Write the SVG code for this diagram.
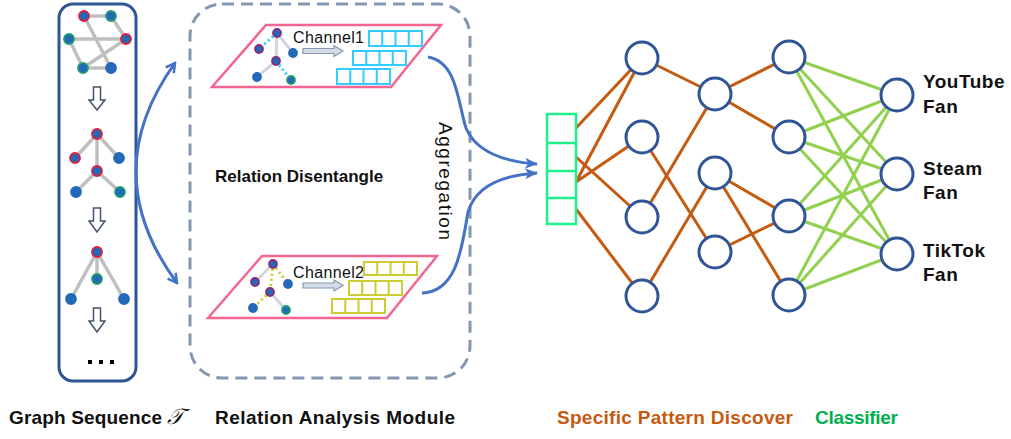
<svg xmlns="http://www.w3.org/2000/svg" width="1011" height="439" viewBox="0 0 1011 439">
<style>
.lbl{font-family:"Liberation Sans",Arial,sans-serif;font-weight:bold;font-size:17px;fill:#111}
.cap{font-family:"Liberation Sans",Arial,sans-serif;font-weight:bold;font-size:19px;fill:#111}
.out{font-family:"Liberation Sans",Arial,sans-serif;font-weight:bold;font-size:19px;fill:#111;letter-spacing:0.5px}
.ch{font-family:"Liberation Sans",Arial,sans-serif;font-size:16px;fill:#111}
.agg{font-family:"Liberation Sans",Arial,sans-serif;font-size:19px;fill:#111}
.nn{fill:#fff;stroke:#2F5597;stroke-width:3}
.org{stroke:#C55A11;stroke-width:3;fill:none}
.grn{stroke:#92D050;stroke-width:3;fill:none}
.ge{stroke:#BFBFBF;stroke-width:3.5}
.ge2{stroke:#D0D5DE;stroke-width:3}
.dc{stroke:#33CCFF;stroke-width:3;stroke-dasharray:2 3}
.dy{stroke:#CCD033;stroke-width:3;stroke-dasharray:2 3}
.dn{fill:#2468B8;stroke-width:1.8}
.r{stroke:#E0203A}
.g{stroke:#1E9E6A}
.b{stroke:#2468B8}
.p{stroke:#8A2A7A}
.cy{fill:none;stroke:#33CCFF;stroke-width:2}
.yl{fill:none;stroke:#CCCC33;stroke-width:2}
.blue{stroke:#4472C4;stroke-width:3;fill:none}
.dar{fill:#fff;stroke:#44546A;stroke-width:1.5}
.har{fill:#D6DCE5;stroke:#8497B0;stroke-width:1.2}
.par{fill:none;stroke:#F4668F;stroke-width:2.5}
</style>
<defs>
<marker id="open" viewBox="0 0 12 12" refX="10" refY="6" markerWidth="12" markerHeight="12" markerUnits="userSpaceOnUse" orient="auto-start-reverse">
<path d="M1,1 L10,6 L1,11" fill="none" stroke="#4472C4" stroke-width="2.5"/>
</marker>
<marker id="stealth" viewBox="0 0 12 10" refX="11" refY="5" markerWidth="13" markerHeight="11" markerUnits="userSpaceOnUse" orient="auto">
<path d="M0,0 L12,5 L0,10 L3,5 z" fill="#4472C4"/>
</marker>
</defs>

<g id="graph-sequence">
<rect x="59" y="4" width="77" height="377" rx="14" fill="#fff" stroke="#2F5597" stroke-width="3"/>
<g id="graph1">
<line class="ge" x1="84" y1="16" x2="111" y2="16"/>
<line class="ge" x1="84" y1="16" x2="111" y2="68"/>
<line class="ge" x1="111" y1="16" x2="126" y2="39"/>
<line class="ge" x1="69" y1="39" x2="126" y2="39"/>
<line class="ge" x1="69" y1="39" x2="83" y2="68"/>
<line class="ge" x1="83" y1="68" x2="111" y2="68"/>
<line class="ge" x1="83" y1="68" x2="126" y2="39"/>
<circle class="dn r" cx="84" cy="16" r="5"/>
<circle class="dn g" cx="111" cy="16" r="5"/>
<circle class="dn g" cx="69" cy="39" r="5"/>
<circle class="dn r" cx="126" cy="39" r="5"/>
<circle class="dn g" cx="83" cy="68" r="5"/>
<circle class="dn b" cx="111" cy="68" r="5"/>
</g>
<polygon class="dar" points="93.5,87 100.5,87 100.5,100 105,100 97,110 89,100 93.5,100"/>
<g id="graph2">
<line class="ge" x1="97" y1="134" x2="75" y2="158"/>
<line class="ge" x1="97" y1="134" x2="119" y2="158"/>
<line class="ge" x1="97" y1="134" x2="97" y2="171"/>
<line class="ge" x1="97" y1="171" x2="76" y2="192"/>
<line class="ge" x1="97" y1="171" x2="120" y2="192"/>
<circle class="dn r" cx="97" cy="134" r="5"/>
<circle class="dn r" cx="75" cy="158" r="5"/>
<circle class="dn b" cx="119" cy="158" r="5"/>
<circle class="dn r" cx="97" cy="171" r="5"/>
<circle class="dn b" cx="76" cy="192" r="5"/>
<circle class="dn g" cx="120" cy="192" r="5"/>
</g>
<polygon class="dar" points="93.5,208 100.5,208 100.5,221 105,221 97,232 89,221 93.5,221"/>
<g id="graph3">
<line class="ge" x1="97" y1="252" x2="97" y2="279"/>
<line class="ge" x1="97" y1="252" x2="71" y2="299"/>
<line class="ge" x1="97" y1="252" x2="124" y2="299"/>
<circle class="dn r" cx="97" cy="252" r="5"/>
<circle class="dn g" cx="97" cy="279" r="5"/>
<circle class="dn b" cx="71" cy="299" r="5"/>
<circle class="dn b" cx="124" cy="299" r="5"/>
</g>
<polygon class="dar" points="93.5,308 100.5,308 100.5,321 105,321 97,332 89,321 93.5,321"/>
<rect x="88" y="360" width="4" height="4" fill="#000"/>
<rect x="99" y="360" width="4" height="4" fill="#000"/>
<rect x="110" y="360" width="4" height="4" fill="#000"/>
</g>

<g id="relation-module">
<rect x="190" y="4" width="280" height="374" rx="32" fill="none" stroke="#8497B0" stroke-width="3" stroke-dasharray="12 7"/>
<text class="lbl" x="215" y="182">Relation Disentangle</text>
<text class="agg" transform="translate(439,122) rotate(90)" textLength="118" lengthAdjust="spacing">Aggregation</text>
</g>

<g id="channel1">
<polygon class="par" points="212,87 266,25 441,25 391,87"/>
<line class="dc" x1="277" y1="33" x2="259" y2="49"/>
<line class="ge2" x1="277" y1="33" x2="293" y2="53"/>
<line class="ge2" x1="277" y1="33" x2="276" y2="61"/>
<line class="ge2" x1="276" y1="61" x2="257" y2="77"/>
<line class="dc" x1="276" y1="61" x2="291" y2="80"/>
<circle class="dn p" cx="277" cy="33" r="4"/>
<circle class="dn p" cx="259" cy="49" r="4"/>
<circle class="dn b" cx="293" cy="53" r="4"/>
<circle class="dn p" cx="276" cy="61" r="4"/>
<circle class="dn b" cx="257" cy="77" r="4"/>
<circle class="dn g" cx="291" cy="80" r="4"/>
<text class="ch" x="293" y="43" textLength="71" lengthAdjust="spacing">Channel1</text>
<polygon class="har" points="303,48.5 334,48.5 334,45.5 343,51 334,56.5 334,53.5 303,53.5"/>
<rect class="cy" x="369" y="31" width="53" height="15"/>
<path class="cy" d="M382.25,31V46M395.5,31V46M408.75,31V46"/>
<rect class="cy" x="353" y="51" width="53" height="14"/>
<path class="cy" d="M366.25,51V65M379.5,51V65M392.75,51V65"/>
<rect class="cy" x="337" y="69" width="53" height="15"/>
<path class="cy" d="M350.25,69V84M363.5,69V84M376.75,69V84"/>
</g>

<g id="channel2">
<polygon class="par" points="208,318 262,256 437,256 387,318"/>
<line class="ge2" x1="273" y1="264" x2="255" y2="282"/>
<line class="dy" x1="273" y1="264" x2="288" y2="284"/>
<line class="dy" x1="273" y1="264" x2="270" y2="292"/>
<line class="dy" x1="270" y1="292" x2="253" y2="308"/>
<line class="ge2" x1="270" y1="292" x2="286" y2="310"/>
<circle class="dn p" cx="273" cy="264" r="4"/>
<circle class="dn p" cx="255" cy="282" r="4"/>
<circle class="dn b" cx="288" cy="284" r="4"/>
<circle class="dn p" cx="270" cy="292" r="4"/>
<circle class="dn b" cx="253" cy="308" r="4"/>
<circle class="dn g" cx="286" cy="310" r="4"/>
<text class="ch" x="293" y="278" textLength="71" lengthAdjust="spacing">Channel2</text>
<polygon class="har" points="303,283 334,283 334,280 343,285.5 334,291 334,288 303,288"/>
<rect class="yl" x="364" y="262" width="53" height="13"/>
<path class="yl" d="M377.25,262V275M390.5,262V275M403.75,262V275"/>
<rect class="yl" x="349" y="281" width="53" height="14"/>
<path class="yl" d="M362.25,281V295M375.5,281V295M388.75,281V295"/>
<rect class="yl" x="332" y="299" width="53" height="14"/>
<path class="yl" d="M345.25,299V313M358.5,299V313M371.75,299V313"/>
</g>

<g id="connectors">
<path class="blue" d="M175,63 Q96,173 177,283" marker-start="url(#open)" marker-end="url(#open)"/>
<path class="blue" d="M428,57 C458,62 458,105 466,128 C476,152 505,162 537,164" marker-end="url(#stealth)"/>
<path class="blue" d="M422,293 C458,292 462,245 468,212 C476,185 505,175 537,173" marker-end="url(#stealth)"/>
<g id="orange-edges">
<line class="org" x1="576" y1="128" x2="642" y2="58"/>
<line class="org" x1="576" y1="182" x2="642" y2="58"/>
<line class="org" x1="576" y1="182" x2="642" y2="137"/>
<line class="org" x1="576" y1="157" x2="642" y2="217"/>
<line class="org" x1="576" y1="209" x2="642" y2="296"/>
<line class="org" x1="642" y1="58" x2="715" y2="94"/>
<line class="org" x1="642" y1="137" x2="715" y2="252"/>
<line class="org" x1="642" y1="217" x2="715" y2="94"/>
<line class="org" x1="642" y1="296" x2="715" y2="173"/>
<line class="org" x1="715" y1="94" x2="789" y2="57"/>
<line class="org" x1="715" y1="94" x2="789" y2="137"/>
<line class="org" x1="715" y1="173" x2="789" y2="216"/>
<line class="org" x1="715" y1="173" x2="789" y2="295"/>
<line class="org" x1="715" y1="252" x2="789" y2="216"/>
</g>
<g id="green-edges">
<line class="grn" x1="789" y1="57" x2="897" y2="95"/>
<line class="grn" x1="789" y1="57" x2="897" y2="174"/>
<line class="grn" x1="789" y1="57" x2="897" y2="254"/>
<line class="grn" x1="789" y1="137" x2="897" y2="95"/>
<line class="grn" x1="789" y1="137" x2="897" y2="174"/>
<line class="grn" x1="789" y1="137" x2="897" y2="254"/>
<line class="grn" x1="789" y1="216" x2="897" y2="95"/>
<line class="grn" x1="789" y1="216" x2="897" y2="174"/>
<line class="grn" x1="789" y1="216" x2="897" y2="254"/>
<line class="grn" x1="789" y1="295" x2="897" y2="95"/>
<line class="grn" x1="789" y1="295" x2="897" y2="174"/>
<line class="grn" x1="789" y1="295" x2="897" y2="254"/>
</g>
</g>

<g id="feature-vector">
<rect x="547" y="114" width="29" height="110" fill="#fff" stroke="#1EF08A" stroke-width="2.5"/>
<path d="M547,143H576M547,171H576M547,198H576" stroke="#1EF08A" stroke-width="2.5"/>
</g>

<g id="nn-layer1">
<circle class="nn" cx="642" cy="58" r="16"/>
<circle class="nn" cx="642" cy="137" r="16"/>
<circle class="nn" cx="642" cy="217" r="16"/>
<circle class="nn" cx="642" cy="296" r="16"/>
</g>
<g id="nn-layer2">
<circle class="nn" cx="715" cy="94" r="16"/>
<circle class="nn" cx="715" cy="173" r="16"/>
<circle class="nn" cx="715" cy="252" r="16"/>
</g>
<g id="nn-layer3">
<circle class="nn" cx="789" cy="57" r="16"/>
<circle class="nn" cx="789" cy="137" r="16"/>
<circle class="nn" cx="789" cy="216" r="16"/>
<circle class="nn" cx="789" cy="295" r="16"/>
</g>
<g id="output-youtube">
<circle class="nn" cx="897" cy="95" r="16"/>
<text class="out" x="923" y="88">YouTube</text>
<text class="out" x="923" y="113">Fan</text>
</g>
<g id="output-steam">
<circle class="nn" cx="897" cy="174" r="16"/>
<text class="out" x="923" y="175">Steam</text>
<text class="out" x="923" y="199">Fan</text>
</g>
<g id="output-tiktok">
<circle class="nn" cx="897" cy="254" r="16"/>
<text class="out" x="923" y="257">TikTok</text>
<text class="out" x="923" y="281">Fan</text>
</g>

<g id="captions">
<text class="cap" x="9" y="424"><tspan textLength="153" lengthAdjust="spacing">Graph Sequence</tspan> <tspan font-family="DejaVu Serif,serif" font-style="italic" font-weight="normal" font-size="22">𝒯</tspan></text>
<text class="cap" x="215" y="424" textLength="240" lengthAdjust="spacing">Relation Analysis Module</text>
<text class="cap" x="557" y="424" textLength="236" lengthAdjust="spacing" style="fill:#C55A11">Specific Pattern Discover</text>
<text class="cap" x="815" y="424" textLength="83" lengthAdjust="spacing" style="fill:#00B050">Classifier</text>
</g>
</svg>
